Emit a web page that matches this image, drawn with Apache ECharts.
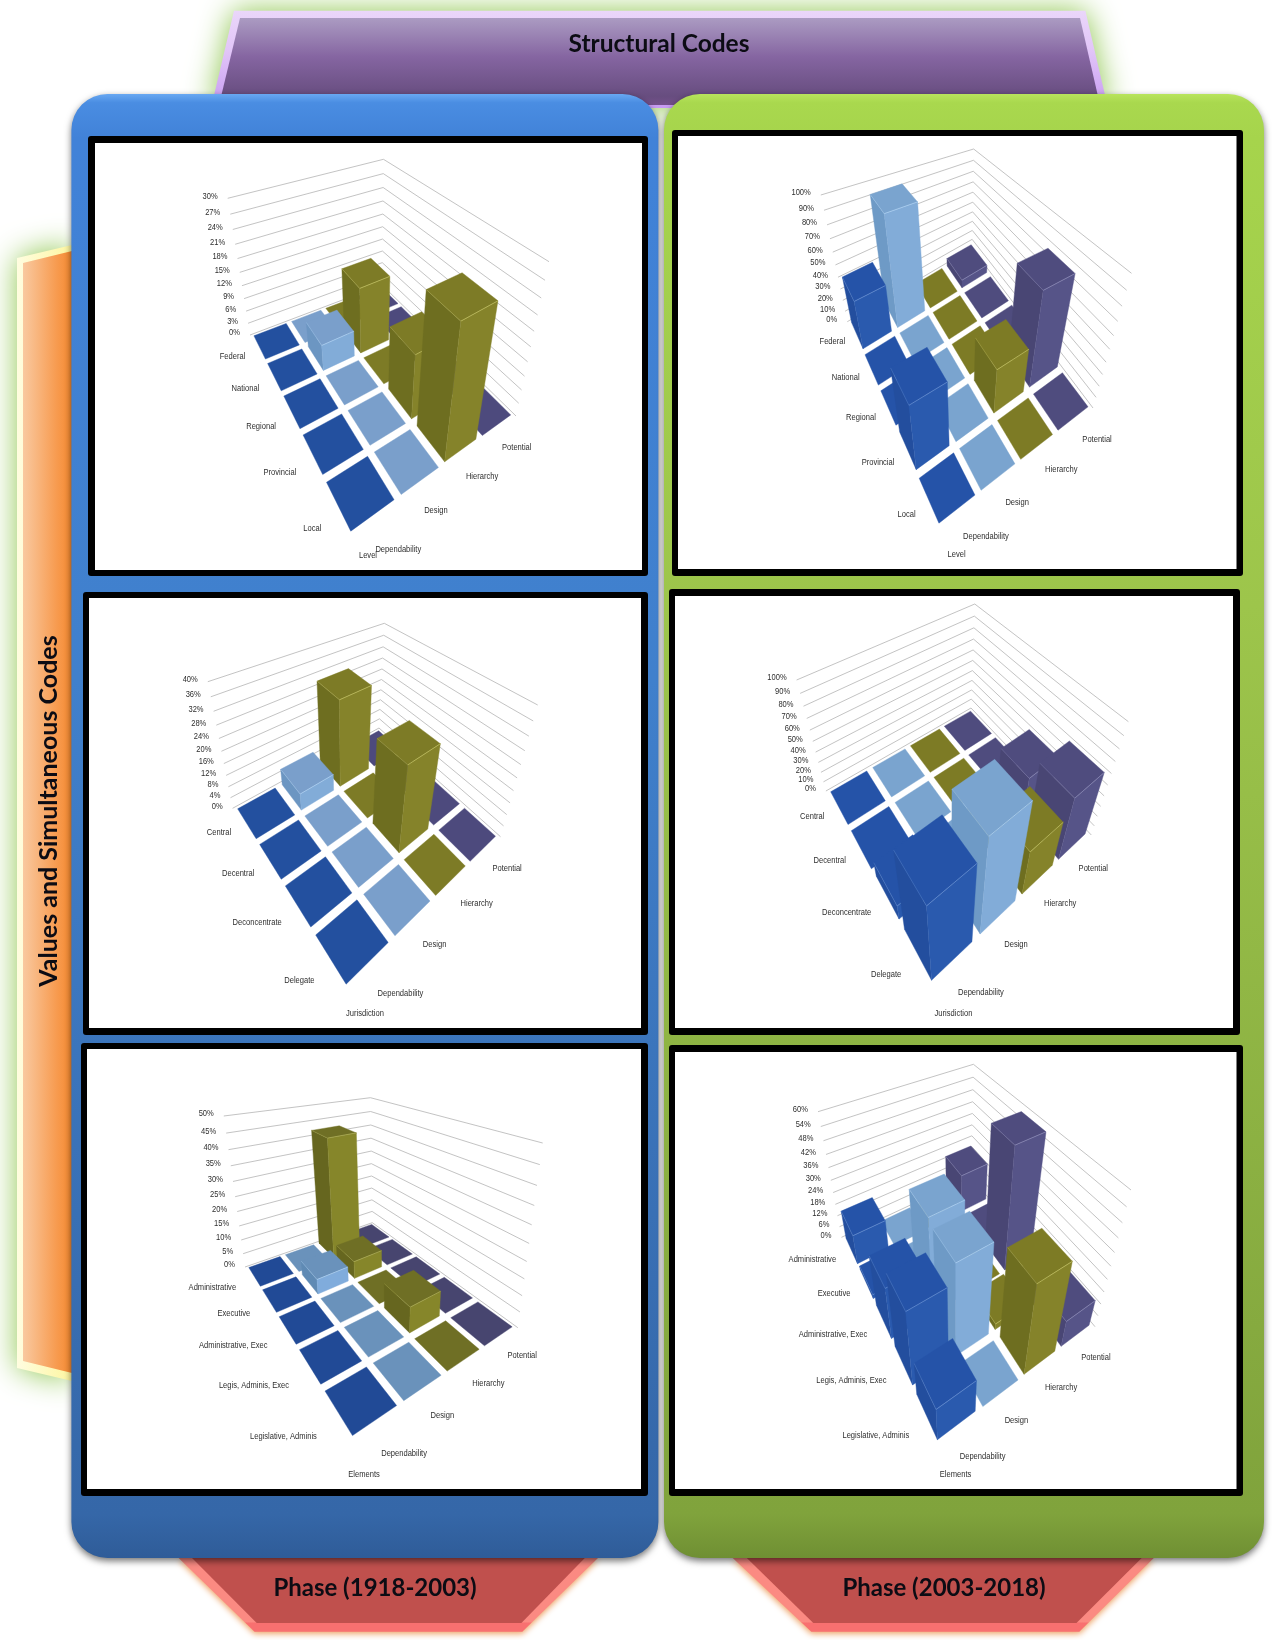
<!DOCTYPE html>
<html>
<head>
<meta charset="utf-8">
<title>Structural Codes by Phase</title>
<script src="https://cdn.jsdelivr.net/npm/echarts@6/dist/echarts.min.js"></script>
<style>
html,body{margin:0;padding:0;background:#fff}
#chart{width:1272px;height:1640px}
</style>
</head>
<body>
<div id="chart"></div>
<script>
// Category labels
const structuralCodes = ['Dependability', 'Design', 'Hierarchy', 'Potential'];
const levelRows = ['Federal', 'National', 'Regional', 'Provincial', 'Local'];
const jurisdictionRows = ['Central', 'Decentral', 'Deconcentrate', 'Delegate'];
const elementRows = ['Administrative', 'Executive', 'Administrative, Exec', 'Legis, Adminis, Exec', 'Legislative, Adminis'];

// Percent values by structural code, one entry per row
const level1918Dependability = [0, 0, 0, 0, 0];
const level1918Design = [0, 6, 0, 0, 0];
const level1918Hierarchy = [0, 15, 0, 14, 27];
const level1918Potential = [0, 0, 0, 0, 0];

const level2003Dependability = [41, 0, 0, 51, 0];
const level2003Design = [92, 0, 0, 0, 0];
const level2003Hierarchy = [0, 0, 0, 37, 0];
const level2003Potential = [8, 0, 0, 77, 0];

const jurisdiction1918Dependability = [0, 0, 0, 0];
const jurisdiction1918Design = [6, 0, 0, 0];
const jurisdiction1918Hierarchy = [30, 0, 28, 0];
const jurisdiction1918Potential = [0, 0, 0, 0];

const jurisdiction2003Dependability = [0, 0, 15, 78];
const jurisdiction2003Design = [0, 0, 0, 92];
const jurisdiction2003Hierarchy = [0, 0, 0, 44];
const jurisdiction2003Potential = [0, 0, 40, 60];

const elements1918Dependability = [0, 0, 0, 0, 0];
const elements1918Design = [0, 5, 0, 0, 0];
const elements1918Hierarchy = [42, 6, 0, 8, 0];
const elements1918Potential = [0, 0, 0, 0, 0];

const elements2003Dependability = [15, 2, 25, 35, 16];
const elements2003Design = [0, 0, 45, 43, 0];
const elements2003Hierarchy = [0, 0, 0, 3, 42];
const elements2003Potential = [20, 0, 58, 0, 13];

// Value axis ticks, in percent
const ticks30 = [0, 3, 6, 9, 12, 15, 18, 21, 24, 27, 30];
const ticks100 = [0, 10, 20, 30, 40, 50, 60, 70, 80, 90, 100];
const ticks40 = [0, 4, 8, 12, 16, 20, 24, 28, 32, 36, 40];
const ticks50 = [0, 5, 10, 15, 20, 25, 30, 35, 40, 45, 50];
const ticks60 = [0, 6, 12, 18, 24, 30, 36, 42, 48, 54, 60];

// Face colours per code: [top, left side, right side, edge highlight]
const brightFaces = [
  ['#2553a8', '#234e9e', '#2a5aae', '#5f88cc'],
  ['#7aa4cf', '#6e9ac6', '#82acd8', '#a8ccee'],
  ['#7d7b25', '#6e6e20', '#85832a', '#b9b85a'],
  ['#4f4c7e', '#494674', '#565488', '#8583b0']
];
const midFaces = [
  ['#23509f', '#214c98', '#2856a8', '#5f88cc'],
  ['#7a9fcb', '#6c96c2', '#82acd8', '#a8ccee'],
  ['#7d7b26', '#6e6e20', '#85832a', '#b9b85a'],
  ['#4d4a7d', '#474572', '#545285', '#8583b0']
];
const dimFaces = [
  ['#214a96', '#204690', '#2450a0', '#5a80c0'],
  ['#6a92bb', '#5f8ab4', '#80acdc', '#a8ccee'],
  ['#6f6f25', '#66661f', '#86862a', '#a8a850'],
  ['#47456f', '#43416a', '#4e4c7a', '#7573a0']
];

// Each panel: frame box, value scale and the view of its floor and walls
const panels = [
  { title: 'Level', titleAt: [368, 556], rows: levelRows, ticks: ticks30, faces: midFaces,
    values: [level1918Dependability, level1918Design, level1918Hierarchy, level1918Potential],
    frame: [88, 136, 648, 576], inner: [95, 143, 642, 570],
    rowShift: [0, 1], codeShift: [0, -2],
    floor: { left: [250, 335], back: [382, 285], right: [516, 416], front: [349, 539] },
    top: { left: [227.7, 198.3], back: [382, 159.3], right: [549, 261.7] } },
  { title: 'Level', titleAt: [956.6, 555], rows: levelRows, ticks: ticks100, faces: brightFaces,
    values: [level2003Dependability, level2003Design, level2003Hierarchy, level2003Potential],
    frame: [672, 130, 1243, 576], inner: [678, 136, 1236.5, 569],
    rowShift: [0, -5], codeShift: [8.5, -5],
    floor: { left: [847.3, 321.7], back: [972, 248], right: [1093, 408], front: [937.5, 530] },
    top: { left: [820.8, 195], back: [972, 149], right: [1131.5, 273.3] } },
  { title: 'Jurisdiction', titleAt: [365, 1014], rows: jurisdictionRows, ticks: ticks40, faces: midFaces,
    values: [jurisdiction1918Dependability, jurisdiction1918Design, jurisdiction1918Hierarchy, jurisdiction1918Potential],
    frame: [83, 592, 648, 1035], inner: [89, 598, 641, 1028],
    rowShift: [1, -4], codeShift: [8, 2],
    floor: { left: [232.6, 808.3], back: [379, 728], right: [500.5, 836.7], front: [345, 993] },
    top: { left: [207.8, 681.7], back: [379, 623.3], right: [537.7, 705] } },
  { title: 'Jurisdiction', titleAt: [953.5, 1014], rows: jurisdictionRows, ticks: ticks100, faces: brightFaces,
    values: [jurisdiction2003Dependability, jurisdiction2003Design, jurisdiction2003Hierarchy, jurisdiction2003Potential],
    frame: [669, 589, 1240, 1035], inner: [675, 596, 1233, 1028],
    rowShift: [1, -5], codeShift: [5, 0],
    floor: { left: [825.9, 791], back: [971, 708], right: [1091.3, 835], front: [930, 991] },
    top: { left: [796.6, 680], back: [972.2, 604], right: [1128.4, 721.7] } },
  { title: 'Elements', titleAt: [364, 1475], rows: elementRows, ticks: ticks50, faces: dimFaces,
    values: [elements1918Dependability, elements1918Design, elements1918Hierarchy, elements1918Potential],
    frame: [81, 1043, 648, 1496], inner: [87, 1049, 641, 1489],
    rowShift: [-4.5, 4], codeShift: [0, -1],
    floor: { left: [245, 1267], back: [372.3, 1222.7], right: [517.8, 1327.7], front: [351, 1443] },
    top: { left: [223.8, 1116], back: [375, 1097.7], right: [542.7, 1143] } },
  { title: 'Elements', titleAt: [955.5, 1475], rows: elementRows, ticks: ticks60, faces: brightFaces,
    values: [elements2003Dependability, elements2003Design, elements2003Hierarchy, elements2003Potential],
    frame: [669, 1045, 1243, 1496], inner: [675, 1052, 1236.5, 1489],
    rowShift: [-2, -2], codeShift: [3.5, -4],
    floor: { left: [841.5, 1237.3], back: [971, 1176.7], right: [1095, 1326.7], front: [935.5, 1448.5] },
    top: { left: [818, 1111.7], back: [971, 1064.3], right: [1131, 1190] } }
];

const smallFont = '9px "Liberation Sans", Arial, sans-serif';
const smallInk = '#2e2e2e';
const TEXT_SQUEEZE = 0.84;
const FLAT_INSET = 0.075;
const RAISED_INSET = 0.09;

// Builds the perspective view: a floor homography plus a lift toward the vertical vanishing point.
function makeView(panel) {
  const { left: p0, back: p1, right: p2, front: p3 } = panel.floor;
  const dx1 = p1[0] - p2[0], dx2 = p3[0] - p2[0], sx = p0[0] - p1[0] + p2[0] - p3[0];
  const dy1 = p1[1] - p2[1], dy2 = p3[1] - p2[1], sy = p0[1] - p1[1] + p2[1] - p3[1];
  const den = dx1 * dy2 - dx2 * dy1;
  const g = (sx * dy2 - dx2 * sy) / den;
  const h = (dx1 * sy - sx * dy1) / den;
  const a = p1[0] - p0[0] + g * p1[0], b = p3[0] - p0[0] + h * p3[0], c = p0[0];
  const d = p1[1] - p0[1] + g * p1[1], e = p3[1] - p0[1] + h * p3[1], f = p0[1];

  // Vertical edges converge where the left and right wall edges meet
  const tl = panel.top.left, tr = panel.top.right;
  const kl = (p0[0] - tl[0]) / (p0[1] - tl[1]);
  const kr = (p2[0] - tr[0]) / (p2[1] - tr[1]);
  const vy = (tr[0] - tl[0] + kl * tl[1] - kr * tr[1]) / (kl - kr);
  const vx = tl[0] + kl * (vy - tl[1]);

  // The lift varies across the floor so all three wall corners reach their full height
  const weight = (u, v) => g * u + h * v + 1;
  const liftFrom = (topY, floorY, w) => w * (topY - floorY) / (vy - topY);
  const liftL = liftFrom(tl[1], p0[1], weight(0, 0));
  const liftB = liftFrom(panel.top.back[1], p1[1], weight(1, 0));
  const liftR = liftFrom(tr[1], p2[1], weight(1, 1));

  // u runs across the structural codes, v along the rows, t is the share of the value axis
  return function project(u, v, t) {
    const lift = liftL + (liftB - liftL) * u + (liftR - liftB) * v;
    const w = weight(u, v) + t * lift;
    return [
      (a * u + b * v + c + t * lift * vx) / w,
      (d * u + e * v + f + t * lift * vy) / w
    ];
  };
}

function polygon(points, fill) {
  return { type: 'polygon', shape: { points }, style: { fill, stroke: fill, lineWidth: 0.4 }, silent: true };
}

// One column of the 3D bar grid, read from the encoded [code, row, value] item
function barRenderer(panel, project) {
  const nCols = structuralCodes.length, nRows = panel.rows.length;
  const maxValue = panel.ticks[panel.ticks.length - 1];
  return function (params, api) {
    const col = api.value(0), row = api.value(1), value = api.value(2);
    const t = value / maxValue;
    const inset = t > 0 ? RAISED_INSET : FLAT_INSET;
    const u0 = (col + inset) / nCols, u1 = (col + 1 - inset) / nCols;
    const v0 = (row + inset) / nRows, v1 = (row + 1 - inset) / nRows;
    const pt = (u, v, s) => api.coord(project(u, v, s));
    const faces = panel.faces[col];
    const children = [];
    if (t > 0) {
      children.push(polygon([pt(u0, v0, 0), pt(u0, v1, 0), pt(u0, v1, t), pt(u0, v0, t)], faces[1]));
      children.push(polygon([pt(u0, v1, 0), pt(u1, v1, 0), pt(u1, v1, t), pt(u0, v1, t)], faces[2]));
    }
    children.push(polygon([pt(u0, v0, t), pt(u1, v0, t), pt(u1, v1, t), pt(u0, v1, t)], faces[0]));
    if (t > 0) {
      children.push({
        type: 'polyline', silent: true,
        shape: { points: [pt(u0, v1, t), pt(u1, v1, t)] },
        style: { fill: null, stroke: faces[3], lineWidth: 0.9 }
      });
      children.push({
        type: 'polyline', silent: true,
        shape: { points: [pt(u0, v0, t), pt(u0, v1, t)] },
        style: { fill: null, stroke: faces[3], lineWidth: 0.6, opacity: 0.7 }
      });
    }
    return { type: 'group', children };
  };
}

function smallText(p, text, align) {
  return { type: 'text', silent: true, x: p[0], y: p[1], scaleX: TEXT_SQUEEZE,
    style: { x: 0, y: 0, text, font: smallFont, fill: smallInk,
             align, textAlign: align, verticalAlign: 'middle', textVerticalAlign: 'middle' } };
}

// Wall gridlines and their percent labels
function tickRenderer(panel, project) {
  const maxValue = panel.ticks[panel.ticks.length - 1];
  return function (params, api) {
    const tick = api.value(0), t = tick / maxValue;
    const l = api.coord(project(0, 0, t));
    const b = api.coord(project(1, 0, t));
    const r = api.coord(project(1, 1, t));
    return {
      type: 'group',
      children: [
        { type: 'polyline', silent: true, shape: { points: [l, b, r] },
          style: { fill: null, stroke: '#b4b4b4', lineWidth: 0.8 } },
        smallText([l[0] - 10, l[1] - 2], tick + '%', 'right')
      ]
    };
  };
}

// Row labels, code labels and the row axis title
function labelRenderer(panel, project) {
  const nCols = structuralCodes.length, nRows = panel.rows.length;
  return function (params, api) {
    const kind = api.value(0), index = api.value(1);
    if (kind === 0) {
      const p = api.coord(project(-0.08, (index + 0.5) / nRows + 0.035, 0));
      return smallText([p[0] + panel.rowShift[0], p[1] - 3 + panel.rowShift[1]], panel.rows[index], 'right');
    }
    if (kind === 1) {
      const p = api.coord(project((index + 0.5) / nCols, 1.10, 0));
      return smallText([p[0] - 18 + panel.codeShift[0], p[1] + panel.codeShift[1]], structuralCodes[index], 'left');
    }
    return smallText(api.coord(panel.titleAt), panel.title, 'center');
  };
}

// Banners, coloured phase cards and chart frames behind the series
function vertical(stops) {
  return { type: 'linear', x: 0, y: 0, x2: 0, y2: 1, colorStops: stops.map(s => ({ offset: s[0], color: s[1] })) };
}
function horizontal(stops) {
  return { type: 'linear', x: 0, y: 0, x2: 1, y2: 0, colorStops: stops.map(s => ({ offset: s[0], color: s[1] })) };
}
function shape(points, fill, extra) {
  return { type: 'polygon', silent: true, shape: { points }, style: Object.assign({ fill }, extra || {}) };
}
function bannerText(x, y, text, size, rotation) {
  return { type: 'text', silent: true, x, y, rotation: rotation || 0, z: 1,
    style: { x: 0, y: 0, text, font: 'bold ' + size + 'px Lato, "Open Sans", sans-serif', fill: '#0c0c14',
             align: 'center', textAlign: 'center', verticalAlign: 'middle', textVerticalAlign: 'middle' } };
}
function phaseBanner(outer, inner) {
  return [
    shape(outer, vertical([[0, '#fb8a82'], [0.87, '#fb8a82'], [0.88, '#f87070'], [1, '#f87070']]),
      { shadowBlur: 6, shadowColor: 'rgba(235,150,80,0.9)', shadowOffsetY: 2 }),
    shape(inner, '#c0504d')
  ];
}

const glow = { shadowBlur: 30, shadowColor: '#8ec64e' };
const decorations = [
  // top banner
  shape([[234, 10.7], [1085.4, 10.7], [1108, 108], [211, 108]],
    vertical([[0, '#ead6fa'], [0.4, '#e2c6f8'], [1, '#c79af2']]), glow),
  shape([[240, 18], [1080, 18], [1100, 105], [219, 105]],
    vertical([[0, '#ab9bc2'], [0.45, '#8565a1'], [0.9, '#674d7f'], [1, '#734f8a']])),
  // side banner
  shape([[17, 258], [72, 245], [72, 1381], [17, 1368]],
    horizontal([[0, '#fffde0'], [1, '#fdf6a0']]), glow),
  shape([[23, 263], [72, 251], [72, 1373], [23, 1361]],
    horizontal([[0, '#f9c9a0'], [0.7, '#f79a4e'], [1, '#f58a30']])),
  // phase banners
  ...phaseBanner([[178.6, 1558], [254.5, 1631.7], [522.3, 1631.7], [598, 1558]],
    [[192, 1558], [256.7, 1623], [521.4, 1623], [584.8, 1558]]),
  ...phaseBanner([[732.7, 1558], [811.3, 1631.7], [1079.3, 1631.7], [1153.8, 1558]],
    [[746.8, 1558], [813.3, 1623], [1076.5, 1623], [1141.7, 1558]]),
  // phase cards
  { type: 'rect', silent: true, shape: { x: 71.4, y: 94, width: 587, height: 1464, r: 36 },
    style: { fill: vertical([[0, '#68a8f2'], [0.006, '#4a8de2'], [0.03, '#4182d8'], [0.4, '#4080cc'], [0.97, '#3567a8'], [1, '#2f5c98']]),
             shadowBlur: 7, shadowColor: 'rgba(0,0,0,0.55)', shadowOffsetY: 3 } },
  { type: 'rect', silent: true, shape: { x: 664, y: 94, width: 600, height: 1464, r: 36 },
    style: { fill: vertical([[0, '#b8e45c'], [0.006, '#a9d84e'], [0.03, '#a6d44c'], [0.35, '#9dc54b'], [0.97, '#80a33c'], [1, '#6f8f33']]),
             shadowBlur: 7, shadowColor: 'rgba(0,0,0,0.55)', shadowOffsetY: 3 } },
  // chart frames
  ...panels.flatMap(p => [
    { type: 'rect', silent: true, shape: { x: p.frame[0], y: p.frame[1], width: p.frame[2] - p.frame[0], height: p.frame[3] - p.frame[1], r: 3 }, style: { fill: '#000' } },
    { type: 'rect', silent: true, shape: { x: p.inner[0], y: p.inner[1], width: p.inner[2] - p.inner[0], height: p.inner[3] - p.inner[1] }, style: { fill: '#fff' } }
  ]),
  bannerText(659, 44, 'Structural Codes', 24.5),
  bannerText(48.5, 811, 'Values and Simultaneous Codes', 25, Math.PI / 2),
  bannerText(375, 1588, 'Phase (1918-2003)', 24),
  bannerText(944, 1588, 'Phase (2003-2018)', 24)
];

// Each panel gets a full-frame grid whose hidden axes carry page-style coordinates
const grids = [], xAxes = [], yAxes = [], series = [];
panels.forEach((panel, i) => {
  const [x0, y0, x1, y1] = panel.frame;
  grids.push({ left: x0, top: y0, width: x1 - x0, height: y1 - y0, show: false });
  xAxes.push({ type: 'value', gridIndex: i, min: x0, max: x1, show: false });
  yAxes.push({ type: 'value', gridIndex: i, min: y0, max: y1, inverse: true, show: false });

  const project = makeView(panel);
  const axisRefs = { coordinateSystem: 'cartesian2d', xAxisIndex: i, yAxisIndex: i, silent: true, clip: false };

  series.push(Object.assign({
    type: 'custom', z: 2, renderItem: tickRenderer(panel, project),
    encode: { x: -1, y: -1 }, data: panel.ticks.map(t => [t])
  }, axisRefs));

  // Back-to-front order so nearer columns cover farther ones
  const cells = [];
  panel.values.forEach((list, col) => list.forEach((value, row) => cells.push([col, row, value])));
  cells.sort((p, q) => (p[1] - p[0]) - (q[1] - q[0]));
  series.push(Object.assign({
    type: 'custom', z: 3, renderItem: barRenderer(panel, project),
    encode: { x: -1, y: -1 }, data: cells
  }, axisRefs));

  const labels = [
    ...panel.rows.map((_, k) => [0, k]),
    ...structuralCodes.map((_, k) => [1, k]),
    [2, 0]
  ];
  series.push(Object.assign({
    type: 'custom', z: 4, renderItem: labelRenderer(panel, project),
    encode: { x: -1, y: -1 }, data: labels
  }, axisRefs));
});

const chart = echarts.init(document.getElementById('chart'), null, { renderer: 'canvas' });
chart.setOption({
  animation: false,
  backgroundColor: '#ffffff',
  tooltip: { show: false },
  graphic: { elements: decorations },
  grid: grids,
  xAxis: xAxes,
  yAxis: yAxes,
  series
});
</script>
</body>
</html>
